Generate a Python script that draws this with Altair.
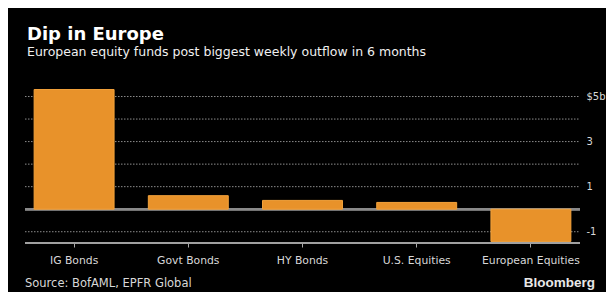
import altair as alt
import pandas as pd

categories = ["IG Bonds", "Govt Bonds", "HY Bonds", "U.S. Equities", "European Equities"]
flows = [5.31, 0.6, 0.39, 0.3, -1.43]
grid_values = [-1, 1, 2, 3, 4, 5]
label_values = [-1, 1, 3, 5]
title_text = "Dip in Europe"
subtitle_text = "European equity funds post biggest weekly outflow in 6 months"
source_text = "Source: BofAML, EPFR Global"
brand_text = "Bloomberg"

FONT = "DejaVu Sans"
ORANGE = "#E8922A"
GRID = "#8c8c8c"
LABEL = "#d8d8d8"

df = pd.DataFrame({"category": categories, "flow": flows})
grid_df = pd.DataFrame({"v": grid_values})

yscale = alt.Scale(domain=[-1.5, 5.6], nice=False, zero=False)
xscale = alt.Scale(domain=categories, paddingInner=0.3, paddingOuter=0.15)

yaxis = alt.Axis(
    orient="right", values=label_values, title=None,
    labelExpr="datum.value == 5 ? '$5b' : '' + datum.value",
    ticks=False, tickSize=0, domain=False, grid=False,
    labelColor=LABEL, labelFont=FONT, labelFontSize=10, labelPadding=-2,
)
xaxis = alt.Axis(
    title=None, domain=False, ticks=True, tickSize=4, tickColor="#aaaaaa",
    tickWidth=1, labelColor=LABEL, labelFont=FONT, labelFontSize=10.8,
    labelPadding=7, labelAngle=0, grid=False,
)

grid = alt.Chart(grid_df).mark_rule(
    color=GRID, strokeDash=[1.5, 1.5], strokeWidth=1
).encode(
    y=alt.Y("v:Q", scale=yscale, axis=yaxis),
    x=alt.value(8), x2=alt.value(563),
)

zero = alt.Chart(grid_df).mark_rule(color="#8a8a8a", strokeWidth=2).encode(
    y=alt.datum(0, scale=yscale, axis=yaxis),
    x=alt.value(8), x2=alt.value(563),
)

baseline = alt.Chart(grid_df).mark_rule(color="#a0a0a0", strokeWidth=1.5).encode(
    y=alt.value(160), x=alt.value(8), x2=alt.value(563),
)

bars = alt.Chart(df).mark_bar(
    color=ORANGE, stroke="#F4A33C", strokeWidth=1
).encode(
    x=alt.X("category:N", scale=xscale, axis=xaxis, sort=categories),
    y=alt.Y("flow:Q", scale=yscale, axis=yaxis),
    y2=alt.datum(0),
)

def text_layer(txt, x, y, size, weight="normal", align="left", color="white", font=FONT):
    return alt.Chart(pd.DataFrame({"t": [txt]})).mark_text(
        align=align, baseline="alphabetic", fontSize=size, fontWeight=weight,
        color=color, font=font,
    ).encode(text="t:N", x=alt.value(x), y=alt.value(y))

title = text_layer(title_text, 10, -43, 18, weight="bold")
subtitle = text_layer(subtitle_text, 10, -27, 12.5, color="#f0f0f0")
source = text_layer(source_text, 8, 204, 11.5, color=LABEL)
brand = text_layer(brand_text, 578, 204, 13.5, weight="bold", align="right",
                   color="#e8e8e8", font="Liberation Sans")

chart = alt.layer(grid, zero, baseline, bars, title, subtitle, source, brand).properties(
    width=571, height=160,
    padding={"left": 9, "top": 75, "right": 18, "bottom": 49},
    autosize="none",
    background="black",
).configure_view(stroke=None)

chart.save("out.html", embed_options={"renderer": "svg", "actions": False})
